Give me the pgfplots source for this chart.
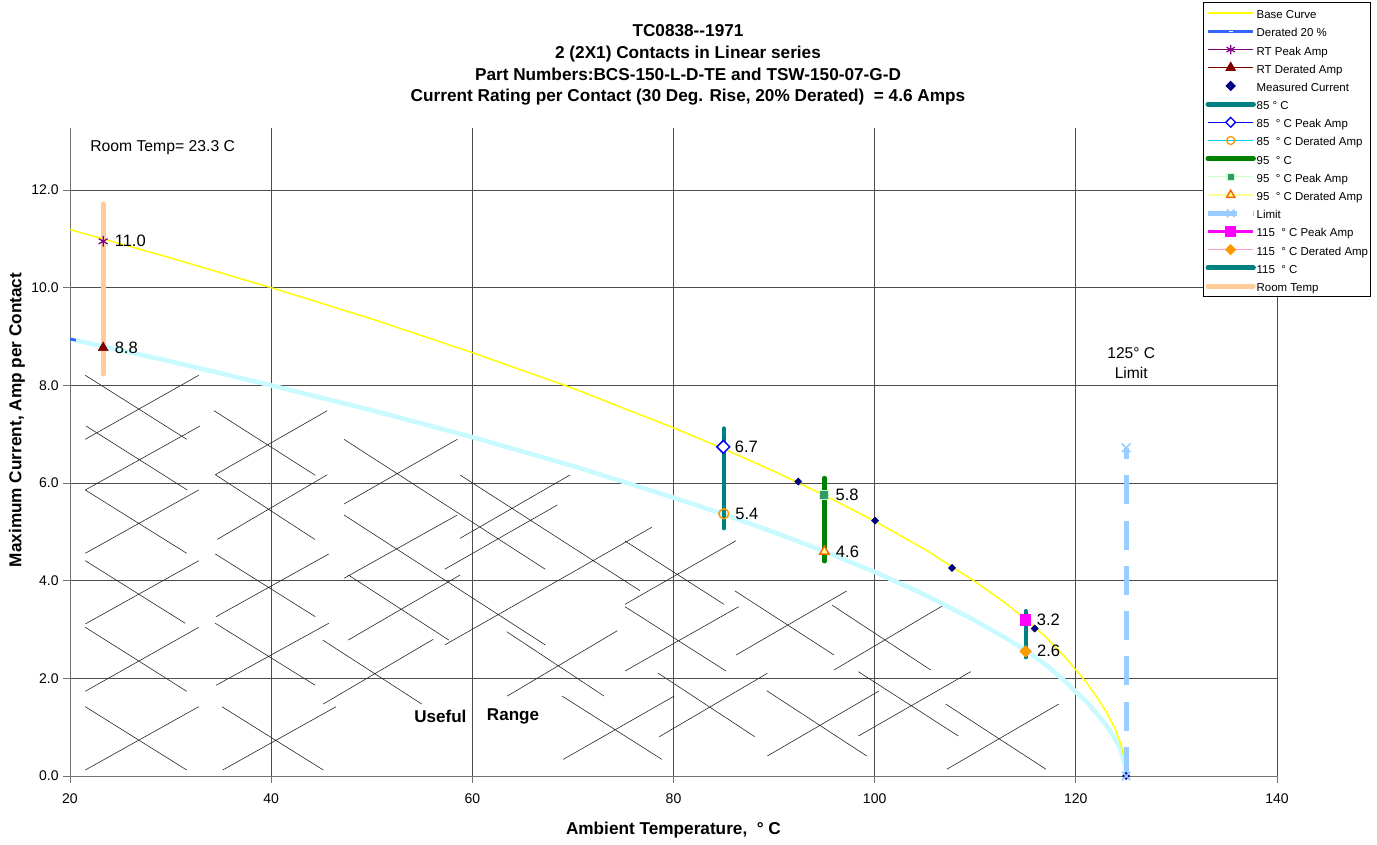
\documentclass[border=0pt]{standalone}
\usepackage{fontspec}
\setmainfont{Liberation Sans}
\usepackage{pgfplots}
\pgfplotsset{compat=1.18}
\definecolor{yellowc}{HTML}{FFFF00}
\definecolor{blueder}{HTML}{3366FF}
\definecolor{bandc}{HTML}{C8FAFF}
\definecolor{purp}{HTML}{800080}
\definecolor{dred}{HTML}{800000}
\definecolor{navyc}{HTML}{000080}
\definecolor{tealc}{HTML}{008080}
\definecolor{bluec}{HTML}{0000FF}
\definecolor{cyanl}{HTML}{00CCFF}
\definecolor{orangec}{HTML}{FF9900}
\definecolor{greenv}{HTML}{008000}
\definecolor{seag}{HTML}{339966}
\definecolor{lgreen}{HTML}{CCFFCC}
\definecolor{lyellow}{HTML}{FFFF99}
\definecolor{orangetri}{HTML}{FF6600}
\definecolor{limitc}{HTML}{99CCFF}
\definecolor{magc}{HTML}{FF00FF}
\definecolor{pinkc}{HTML}{FF99CC}
\definecolor{peach}{HTML}{FFCC99}
\begin{document}
\begin{tikzpicture}
\path[use as bounding box] (-52.5pt,-51pt) rectangle (980.25pt,582pt);
\begin{axis}[
  at={(0pt,0pt)}, anchor=south west,
  scale only axis, width=905.25pt, height=486pt,
  xmin=20, xmax=140, ymin=0, ymax=13.27,
  xtick={20,40,...,140}, ytick={0,2,...,12},
  axis x line*=bottom, axis y line*=left,
  axis line style={black!55, line width=0.75pt, -},
  tick align=outside, major tick length=5pt,
  tick style={black!55, line width=0.75pt},
  grid=major, major grid style={black!70, line width=0.75pt},
  ticklabel style={font=\fontsize{10.5}{12}\selectfont},
  /pgf/number format/assume math mode=true,
  yticklabel style={/pgf/number format/.cd, fixed, fixed zerofill, precision=1},
  xticklabel style={yshift=-5pt, /pgf/number format/.cd, fixed, precision=0},
  clip mode=individual,
  legend style={at={(axis description cs:0.9387,1.1944)}, anchor=north west,
    draw=black, line width=0.75pt, fill=white,
    font=\fontsize{8.6}{10}\selectfont, inner sep=1.5pt, row sep=0.64pt,
    nodes={inner sep=0.6pt, text height=10pt, text depth=1.8pt}},
  legend cell align=left,
  legend image code/.code={\draw[mark repeat=2,mark phase=2] plot coordinates {(0pt,0pt)(17pt,0pt)(34pt,0pt)};},
]
% legend entries
\addlegendimage{yellowc, line width=1.3pt}\addlegendentry{Base Curve}
\addlegendimage{blueder, line width=2.2pt, mark=-, mark size=1.6pt, mark options={white, line width=0.7pt}}\addlegendentry{Derated 20 \%}
\addlegendimage{purp, line width=1pt, mark=asterisk, mark size=3.6pt, mark options={line width=0.9pt}}\addlegendentry{RT Peak Amp}
\addlegendimage{dred, line width=1pt, mark=triangle*, mark size=3.8pt}\addlegendentry{RT Derated Amp}
\addlegendimage{only marks, navyc, mark=square*, mark size=2.4pt, mark options={rotate=45}}\addlegendentry{Measured Current}
\addlegendimage{tealc, line width=3.75pt, line cap=round}\addlegendentry{85 ° C}
\addlegendimage{bluec, line width=1pt, mark=square*, mark size=2.6pt, mark options={rotate=45, fill=white, line width=1pt}}\addlegendentry{85~ ° C Peak Amp}
\addlegendimage{cyanl, line width=1pt, mark=o, mark size=3pt, mark options={orangec, line width=1pt}}\addlegendentry{85~ ° C Derated Amp}
\addlegendimage{greenv, line width=3.75pt, line cap=round}\addlegendentry{95~ ° C}
\addlegendimage{lgreen, line width=0.8pt, mark=square*, mark size=2.8pt, mark options={fill=seag, draw=lgreen, line width=0.8pt}}\addlegendentry{95~ ° C Peak Amp}
\addlegendimage{lyellow, line width=1.1pt, mark=triangle*, mark size=3.6pt, mark options={fill=lyellow, draw=orangetri, line width=1.1pt}}\addlegendentry{95~ ° C Derated Amp}
\addlegendimage{limitc, line width=3.75pt, dash pattern=on 21.75pt off 12.2pt, mark=x, mark size=4pt, mark options={solid, line width=1.2pt}}\addlegendentry{Limit}
\addlegendimage{magc, line width=2.2pt, mark=square*, mark size=3pt}\addlegendentry{115~ ° C Peak Amp}
\addlegendimage{pinkc, line width=0.8pt, mark=square*, mark size=2.6pt, mark options={rotate=45, fill=orangec, draw=orangec}}\addlegendentry{115~ ° C Derated Amp}
\addlegendimage{tealc, line width=3.75pt, line cap=round}\addlegendentry{115~ ° C}
\addlegendimage{peach, line width=3.75pt, line cap=round}\addlegendentry{Room Temp}

% hatch "useful range"
\addplot[forget plot, black!85, line width=0.45pt, unbounded coords=jump] table[row sep=\\] {
x y\\
21.52 8.206\\ 31.60 6.895\\ nan nan\\
21.52 6.895\\ 32.80 8.206\\ nan nan\\
21.59 7.168\\ 31.66 5.857\\ nan nan\\
21.52 5.857\\ 32.93 7.168\\ nan nan\\
21.52 5.857\\ 31.60 4.561\\ nan nan\\
21.52 4.561\\ 32.80 5.857\\ nan nan\\
21.52 4.409\\ 31.46 3.127\\ nan nan\\
21.52 3.113\\ 32.80 4.409\\ nan nan\\
21.52 3.045\\ 31.60 1.735\\ nan nan\\
21.52 1.735\\ 32.80 3.045\\ nan nan\\
21.52 1.419\\ 31.60 0.123\\ nan nan\\
21.52 0.123\\ 32.80 1.419\\ nan nan\\
34.32 7.481\\ 44.39 6.158\\ nan nan\\
34.45 6.170\\ 45.58 7.481\\ nan nan\\
34.45 6.170\\ 44.33 4.847\\ nan nan\\
34.65 4.847\\ 45.58 6.170\\ nan nan\\
34.45 4.546\\ 44.39 3.262\\ nan nan\\
34.52 3.262\\ 45.72 4.546\\ nan nan\\
34.45 3.127\\ 44.39 1.857\\ nan nan\\
34.52 1.857\\ 45.72 3.127\\ nan nan\\
35.11 1.419\\ 45.18 0.123\\ nan nan\\
35.18 0.123\\ 46.45 1.419\\ nan nan\\
45.12 2.785\\ 54.97 1.474\\ nan nan\\
45.18 1.474\\ 56.12 2.800\\ nan nan\\
47.24 6.895\\ 67.26 4.233\\ nan nan\\
47.24 5.570\\ 58.51 6.895\\ nan nan\\
47.24 5.345\\ 67.26 2.683\\ nan nan\\
47.24 4.049\\ 58.51 5.345\\ nan nan\\
47.67 4.116\\ 57.65 2.785\\ nan nan\\
47.67 2.785\\ 58.78 4.116\\ nan nan\\
58.78 6.164\\ 76.67 3.795\\ nan nan\\
58.78 4.868\\ 69.71 6.164\\ nan nan\\
57.25 4.233\\ 68.45 5.550\\ nan nan\\
57.25 2.683\\ 77.83 5.093\\ nan nan\\
63.42 2.955\\ 73.09 1.638\\ nan nan\\
63.48 1.638\\ 74.42 2.976\\ nan nan\\
68.92 1.638\\ 78.83 0.342\\ nan nan\\
69.05 0.342\\ 80.08 1.638\\ nan nan\\
75.18 4.813\\ 85.02 3.516\\ nan nan\\
75.18 3.516\\ 86.22 4.819\\ nan nan\\
75.18 3.467\\ 85.22 2.150\\ nan nan\\
75.18 2.150\\ 86.48 3.467\\ nan nan\\
78.49 2.103\\ 88.08 0.805\\ nan nan\\
78.59 0.805\\ 89.33 2.103\\ nan nan\\
86.12 3.789\\ 95.96 2.478\\ nan nan\\
86.22 2.478\\ 97.22 3.789\\ nan nan\\
89.27 1.747\\ 99.21 0.410\\ nan nan\\
89.33 0.410\\ 100.43 1.741\\ nan nan\\
95.79 3.496\\ 105.57 2.171\\ nan nan\\
95.96 2.171\\ 106.83 3.496\\ nan nan\\
98.38 2.136\\ 108.32 0.819\\ nan nan\\
98.38 0.819\\ 109.55 2.136\\ nan nan\\
107.06 1.474\\ 117.04 0.137\\ nan nan\\
107.16 0.137\\ 118.30 1.474\\
};

% Derated 20 %
\addplot[forget plot, blueder, line width=2.2pt] coordinates {
(20,8.95)(30,8.49)(40,8.00)(50,7.49)(60,6.94)(70,6.35)(80,5.70)(85,5.36)(90,4.99)(95,4.60)(100,4.18)(105,3.71)(110,3.18)(113,2.83)(115,2.57)(117,2.28)(119,1.93)(120,1.72)(121,1.53)(122,1.30)(123,1.05)(123.8,0.80)(124.4,0.56)(124.8,0.31)(124.95,0.15)(125,0)};
\addplot[forget plot, bandc, line width=3.4pt] coordinates {
(20.6,8.92)(30,8.49)(40,8.00)(50,7.49)(60,6.94)(70,6.35)(80,5.70)(85,5.36)(90,4.99)(95,4.60)(100,4.18)(105,3.71)(110,3.18)(113,2.83)(115,2.57)(117,2.28)(119,1.93)(120,1.72)(121,1.53)(122,1.30)(123,1.05)(123.8,0.80)(124.4,0.56)(124.8,0.31)(124.95,0.15)(125,0)};
% Base curve
\addplot[forget plot, yellowc, line width=1.1pt] coordinates {
(20,11.19)(30,10.61)(40,10.00)(50,9.36)(60,8.67)(70,7.94)(80,7.13)(85,6.70)(90,6.24)(95,5.75)(100,5.22)(105,4.64)(110,3.98)(113,3.54)(115,3.21)(117,2.85)(119,2.42)(120,2.17)(121,1.93)(122,1.64)(123,1.32)(123.8,1.01)(124.4,0.70)(124.8,0.39)(124.95,0.19)(125,0)};

% vertical bars
\addplot[forget plot, peach, line width=3.5pt, line cap=round] coordinates {(23.3,8.23)(23.3,11.72)};
\addplot[forget plot, tealc, line width=3pt, line cap=round] coordinates {(85,5.07)(85,7.12)};
\addplot[forget plot, greenv, line width=3.5pt, line cap=round] coordinates {(95,4.40)(95,6.10)};
\addplot[forget plot, tealc, line width=3pt, line cap=round] coordinates {(115,2.43)(115,3.38)};
\addplot[forget plot, limitc, line width=3.75pt, dash pattern=on 21.75pt off 12.2pt] coordinates {(125,0)(125,6.72)};

% measured current
\addplot[forget plot, only marks, navyc, mark=square*, mark size=1.9pt, mark options={rotate=45}] coordinates {
(84.85,6.75)(92.41,6.03)(100.04,5.23)(107.69,4.26)(115.91,3.02)(125,0)};
\addplot[forget plot, only marks, limitc, mark=x, mark size=4.5pt, mark options={solid, line width=1.2pt}] coordinates {(125,0)(125,6.72)};

% points
\addplot[forget plot, purp, mark=asterisk, mark size=4pt, mark options={line width=0.9pt}] coordinates {(23.3,10.95)};
\addplot[forget plot, dred, mark=triangle*, mark size=4.3pt] coordinates {(23.3,8.77)};
\addplot[forget plot, bluec, mark=square*, mark size=3.4pt, mark options={rotate=45, fill=white, line width=1.1pt}] coordinates {(84.95,6.74)};
\addplot[forget plot, orangec, mark=o, mark size=3.7pt, mark options={line width=1.1pt}] coordinates {(85,5.37)};
\addplot[forget plot, mark=square*, mark size=3.4pt, mark options={fill=seag, draw=lgreen, line width=0.8pt}] coordinates {(94.96,5.755)};
\addplot[forget plot, mark=triangle*, mark size=4pt, mark options={fill=lyellow, draw=orangetri, line width=1.1pt}] coordinates {(95,4.60)};
\addplot[forget plot, magc, mark=square*, mark size=4pt] coordinates {(114.98,3.195)};
\addplot[forget plot, orangec, mark=square*, mark size=3.1pt, mark options={rotate=45}] coordinates {(115,2.554)};

% data labels
\begin{scope}[every node/.style={font=\fontsize{12.4}{14}\selectfont, inner sep=0pt, anchor=west, xshift=8.5pt}]
\node at (axis cs:23.3,10.95) {11.0};
\node at (axis cs:23.3,8.77) {8.8};
\node at (axis cs:84.95,6.74) {6.7};
\node at (axis cs:85,5.37) {5.4};
\node at (axis cs:94.96,5.755) {5.8};
\node at (axis cs:95,4.60) {4.6};
\node at (axis cs:114.98,3.195) {3.2};
\node at (axis cs:115,2.554) {2.6};
\end{scope}
\node[font=\fontsize{11.8}{14}\selectfont, anchor=west, inner sep=0pt] at (axis cs:21.99,12.875) {Room Temp= 23.3 C};
\node[font=\fontsize{11.7}{15}\selectfont, align=center, inner sep=0pt] at (axis cs:125.51,8.45) {125° C\\Limit};
\node[font=\bfseries\fontsize{12.8}{14}\selectfont, anchor=west, inner sep=0pt] at (axis cs:54.2,1.23) {Useful};
\node[font=\bfseries\fontsize{12.8}{14}\selectfont, anchor=west, inner sep=0pt] at (axis cs:61.43,1.23) {Range};
\end{axis}
% titles and axis labels
\begin{scope}[every node/.style={font=\bfseries\fontsize{12.9}{15}\selectfont, anchor=base, inner sep=0pt}]
\node at (463.5pt,554.6pt) {TC0838-{}-1971};
\node at (463.5pt,538.3pt) {2 (2X1) Contacts in Linear series};
\node at (463.5pt,521.9pt) {Part Numbers:BCS-150-L-D-TE and TSW-150-07-G-D};
\node at (463.5pt,505.6pt) {Current Rating per Contact (30 Deg. Rise, 20\% Derated)\ \ = 4.6 Amps};
\end{scope}
\node[font=\bfseries\fontsize{12.9}{15}\selectfont, inner sep=0pt] at (452.6pt,-40.5pt) {Ambient Temperature,\ \ ° C};
\node[font=\bfseries\fontsize{12.9}{15}\selectfont, inner sep=0pt, rotate=90] at (-39.75pt,267pt) {Maximum Current, Amp per Contact};
\end{tikzpicture}
\end{document}
